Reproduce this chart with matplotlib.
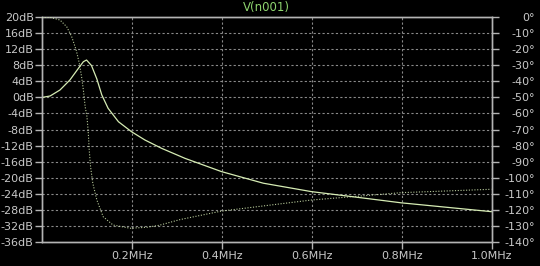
import matplotlib
matplotlib.use("Agg")
import matplotlib.pyplot as plt

# Frequency (MHz) and magnitude (dB)
mag_freq = [0.0, 0.018, 0.04, 0.062, 0.081, 0.092, 0.099, 0.11, 0.122, 0.133,
            0.147, 0.170, 0.199, 0.229, 0.266, 0.318, 0.399, 0.492, 0.599, 0.707,
            0.799, 0.999]
mag_db = [0.0, 0.36, 1.86, 4.35, 7.27, 8.92, 9.34, 7.97, 4.6, 0.61,
          -2.71, -6.06, -8.55, -10.63, -12.7, -15.2, -18.5, -21.4, -23.5, -25.0,
          -26.3, -28.5]

# Frequency (MHz) and phase (degrees)
ph_freq = [0.0, 0.018, 0.04, 0.055, 0.066, 0.076, 0.083, 0.088, 0.092, 0.096,
           0.1, 0.103, 0.105, 0.108, 0.113, 0.122, 0.136, 0.158, 0.196, 0.233,
           0.26, 0.307, 0.399, 0.599, 0.799, 0.999]
ph_deg = [0.0, 0.0, -1.7, -5.9, -12.1, -20.4, -28.7, -37.1, -45.4, -55.8,
          -62.0, -72.4, -82.8, -93.2, -103.6, -114.0, -124.4, -129.6, -131.6, -131.0,
          -129.8, -126.2, -120.9, -114.0, -109.4, -107.3]

x_ticks = [0.2, 0.4, 0.6, 0.8, 1.0]
x_labels = ["0.2MHz", "0.4MHz", "0.6MHz", "0.8MHz", "1.0MHz"]
db_ticks = list(range(20, -37, -4))
db_labels = [f"{v}dB" for v in db_ticks]
deg_ticks = list(range(0, -141, -10))
deg_labels = [f"{v}°" for v in deg_ticks]
title = "V(n001)"

bg = "black"
txt = "#c8c8c8"
frame = "#b4b4b4"
gridc = "#8a8a8a"
linec = "#d6ecb4"

fig = plt.figure(figsize=(5.4, 2.66), dpi=100, facecolor=bg)
ax = fig.add_axes([42/540, 1-241.7/266, (491.7-42)/540, (241.7-17.3)/266])
ax.set_facecolor(bg)
ax2 = ax.twinx()

ax.set_xlim(0, 1.0)
ax.set_ylim(-36, 20)
ax2.set_ylim(-140, 0)

for a in (ax, ax2):
    for s in a.spines.values():
        s.set_color(frame)
        s.set_linewidth(1.0)

ax.set_xticks(x_ticks)
ax.set_xticklabels(x_labels)
ax.set_yticks(db_ticks)
ax.set_yticklabels(db_labels)
ax2.set_yticks(deg_ticks)
ax2.set_yticklabels(deg_labels)

fs = 8
ax.tick_params(axis="x", colors=frame, labelcolor=txt, labelsize=fs, length=5, width=1, pad=2, direction="out")
ax.tick_params(axis="y", colors=frame, labelcolor=txt, labelsize=fs, length=5, width=1, pad=1, direction="out")
ax2.tick_params(axis="y", colors=frame, labelcolor=txt, labelsize=fs, length=5, width=1, pad=26, direction="out")
plt.setp(ax2.get_yticklabels(), ha="right")

# grid
for yv in db_ticks[1:-1]:
    ax.axhline(yv, color=gridc, lw=0.8, ls=(0, (2, 2)), zorder=1)
for xv in x_ticks[:-1]:
    ax.axvline(xv, color=gridc, lw=0.8, ls=(0, (2, 2)), zorder=1)

ax.plot(mag_freq, mag_db, color=linec, lw=0.9, zorder=3)
ax2.plot(ph_freq, ph_deg, color=linec, lw=0.8, ls=(0, (1, 1.5)), alpha=0.85, zorder=3)

fig.text((42+491.7)/2/540, 1-8/266, title, color="#8ed46e", fontsize=fs+0.5,
         ha="center", va="center")

fig.savefig("out.png", dpi=100, facecolor=bg)
